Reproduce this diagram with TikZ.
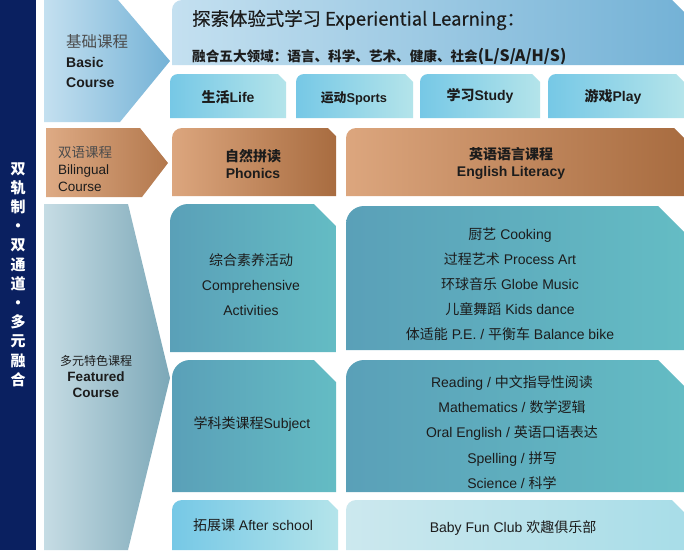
\documentclass[tikz,border=0pt]{standalone}
\usepackage{fontspec}
\setmainfont{Liberation Sans}
\newfontfamily\cjk{Noto Sans CJK SC}
\newfontfamily\cjkmid[FakeBold=0.4]{Noto Sans CJK SC}
\newcommand{\zh}[1]{{\cjk #1}}
\definecolor{navy}{RGB}{10,32,96}
\definecolor{txt}{RGB}{28,28,28}
\definecolor{skyL}{RGB}{196,224,240}
\definecolor{skyR}{RGB}{116,178,214}
\definecolor{aquaL}{RGB}{118,200,230}
\definecolor{aquaR}{RGB}{180,228,234}
\definecolor{tanL}{RGB}{220,166,126}
\definecolor{tanR}{RGB}{168,108,64}
\definecolor{fogL}{RGB}{198,220,228}
\definecolor{fogR}{RGB}{124,168,184}
\definecolor{tealL}{RGB}{90,160,184}
\definecolor{tealR}{RGB}{100,188,196}
\definecolor{paleL}{RGB}{204,232,238}
\definecolor{paleR}{RGB}{168,221,232}

% card: x1,y1,x2,y2,radius,chamfer,left colour,right colour
\newcommand{\card}[8]{%
  \shade[left color=#7,right color=#8] (#1,#4) -- (#1,{#2+#5})
    arc[start angle=180,end angle=90,radius=#5pt] -- ({#3-#6},#2)
    -- (#3,{#2+#6}) -- (#3,#4) -- cycle;}

\tikzset{
  lbl/.style={text=txt,inner sep=0pt,font=\fontsize{14}{25}\selectfont,align=center},
  tab/.style={lbl,font=\bfseries\fontsize{14}{17}\selectfont},
  side/.style={lbl,anchor=west,align=left}
}

\begin{document}
\begin{tikzpicture}[x=1pt,y=-1pt]
    \useasboundingbox[fill=white] (0,0) rectangle (684,550);
    % left strip
    \fill[navy] (0,0) rectangle (36,550);
    \node[text=white,inner sep=0pt,align=center,font=\cjk\bfseries\fontsize{15}{19.2}\selectfont] (motto) at (18,274.5)
        {双\\轨\\制\\·\\双\\通\\道\\·\\多\\元\\融\\合};
    % arrows
    \shade[left color=skyL,right color=skyR] (44,0) -- (118,0) -- (170,61) -- (120,122) -- (44,122) -- cycle;
    \shade[left color=tanL!95!white,right color=tanR!80!tanL] (46,128) -- (140,128) -- (168,163) -- (142,197) -- (46,197) -- cycle;
    \shade[left color=fogL,right color=fogR] (44,204) -- (128,204) -- (170,378) -- (128,550) -- (44,550) -- cycle;
    \node[side,font=\fontsize{14}{20}\selectfont] (basic) at (66,61)
        {{\cjk\color{black!70}\fontsize{15.5}{20}\selectfont 基础课程}\\\textbf{Basic}\\\textbf{Course}};
    \node[side,font=\fontsize{13.5}{17}\selectfont] (bilingual) at (58,169)
        {{\cjk\color{black!70}双语课程}\\Bilingual\\Course};
    \node[lbl,font=\bfseries\fontsize{13.5}{16}\selectfont] (featured) at (96,376)
        {{\cjk\mdseries\fontsize{12}{16}\selectfont 多元特色课程}\\Featured\\Course};
    % top banner
    \card{172}{0}{684}{65}{10}{12}{skyL}{skyR}
    \node[lbl,anchor=west,font=\cjkmid\fontsize{18.4}{20}\selectfont] (expTitle) at (192,20)
        {探索体验式学习 Experiential Learning：};
    \node[lbl,anchor=west,font=\cjk\bfseries\fontsize{13.6}{16}\selectfont] (fiveAreas) at (192,56)
        {融合五大领域：语言、科学、艺术、健康、社会{\fontsize{15.8}{16}\selectfont(L/S/A/H/S)}};
    % four domains
    \card{170}{74}{286}{118}{8}{8}{aquaL}{aquaR}
    \card{296}{74}{413}{118}{8}{8}{aquaL}{aquaR}
    \card{420}{74}{540}{118}{8}{8}{aquaL}{aquaR}
    \card{548}{74}{684}{118}{8}{8}{aquaL}{aquaR}
    \node[tab] (life) at (228,97) {\zh{生活}Life};
    \node[tab,font=\bfseries\fontsize{12.8}{17}\selectfont] (sports) at (354,98) {\zh{运动}Sports};
    \node[tab] (study) at (480,96) {\zh{学习}Study};
    \node[tab] (play) at (613,97) {\zh{游戏}Play};
    % bilingual row
    \card{172}{128}{336}{196}{10}{8}{tanL}{tanR}
    \card{346}{128}{684}{196}{10}{10}{tanL}{tanR}
    \node[tab] (phonics) at (253,163.5) {\zh{自然拼读}\\Phonics};
    \node[tab] (literacy) at (511,163) {\zh{英语语言课程}\\English Literacy};
    % featured rows
    \card{170}{204}{336}{352}{18}{22}{tealL}{tealR}
    \card{346}{206}{684}{350}{18}{26}{tealL}{tealR}
    \card{172}{360}{336}{492}{18}{22}{tealL}{tealR}
    \card{346}{360}{684}{492}{18}{26}{tealL}{tealR}
    \card{172}{500}{338}{550}{10}{10}{aquaL}{aquaR}
    \card{346}{500}{684}{550}{10}{12}{paleL}{paleR}
    \node[lbl] (compre) at (251,285) {\zh{综合素养活动}\\Comprehensive\\Activities};
    \node[lbl] (arts) at (510,284)
        {\zh{厨艺} Cooking\\\zh{过程艺术} Process Art\\\zh{环球音乐} Globe Music\\\zh{儿童舞蹈} Kids dance\\\zh{体适能} P.E. / \zh{平衡车} Balance bike};
    \node[lbl] (subject) at (252,424) {\zh{学科类课程}Subject};
    \node[lbl,font=\fontsize{14}{25.2}\selectfont] (subjects) at (512,432.5)
        {Reading / \zh{中文指导性阅读}\\Mathematics / \zh{数学逻辑}\\Oral English / \zh{英语口语表达}\\Spelling / \zh{拼写}\\Science / \zh{科学}};
    \node[lbl] (afterSchool) at (253,525) {\zh{拓展课} After school};
    \node[lbl] (funClub) at (513,528) {Baby Fun Club \zh{欢趣俱乐部}};
\end{tikzpicture}
\end{document}
